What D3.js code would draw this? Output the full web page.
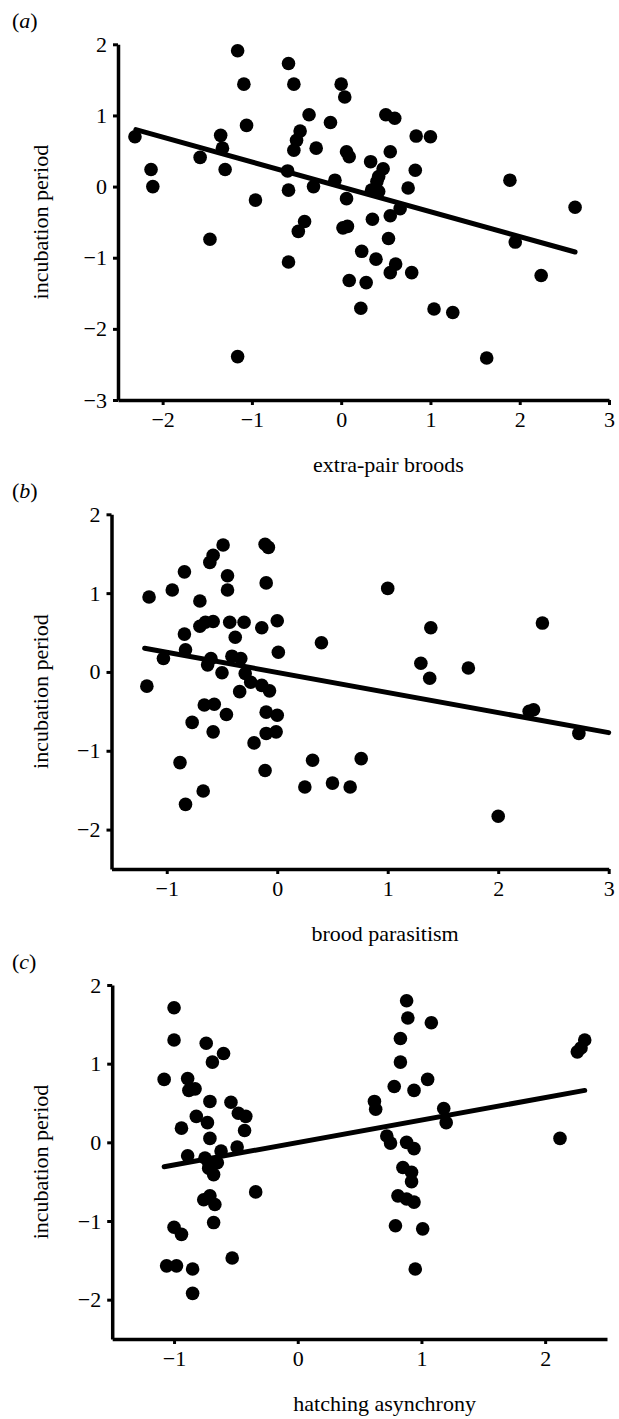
<!DOCTYPE html>
<html>
<head>
<meta charset="utf-8">
<script src="https://cdn.jsdelivr.net/npm/d3@7"></script>
<style>
body{margin:0;background:#fff}
svg{display:block}
text{font-family:"Liberation Serif","Times New Roman",serif;fill:#000}
</style>
</head>
<body>
<div id="chart"></div>
<script>
// (a) extra-pair broods vs incubation period
var pointsA = [[-2.31,0.70],[-2.13,0.24],[-2.11,0.00],[-1.58,0.41],[-1.47,-0.74],[-1.35,0.72],[-1.33,0.54],[-1.30,0.24],
  [-1.16,1.91],[-1.09,1.44],[-1.06,0.86],[-1.16,-2.39],[-0.96,-0.19],[-0.59,1.73],[-0.53,1.44],[-0.46,0.78],[-0.50,0.65],
  [-0.53,0.51],[-0.60,0.22],[-0.59,-0.05],[-0.41,-0.49],[-0.48,-0.63],[-0.59,-1.06],[-0.36,1.01],[-0.31,0.00],[0.00,1.44],
  [0.04,1.26],[-0.12,0.90],[-0.28,0.54],[0.06,0.49],[0.09,0.42],[0.50,1.01],[0.60,0.96],[0.84,0.71],[1.00,0.70],[0.55,0.49],
  [0.33,0.35],[0.47,0.25],[0.42,0.14],[0.40,0.07],[0.34,-0.05],[0.42,-0.07],[0.83,0.23],[0.75,-0.02],[-0.07,0.09],[0.06,-0.17],
  [0.02,-0.58],[0.07,-0.56],[0.35,-0.46],[0.55,-0.41],[0.66,-0.31],[0.53,-0.73],[0.23,-0.91],[0.39,-1.02],[0.61,-1.09],
  [0.55,-1.21],[0.79,-1.21],[0.09,-1.32],[0.28,-1.35],[0.22,-1.71],[1.04,-1.72],[1.25,-1.77],[1.63,-2.41],[1.89,0.09],
  [1.95,-0.78],[2.24,-1.25],[2.62,-0.29]]
var fitAx = [-2.3, 2.62]
var fitAy = [0.80, -0.92]
var xTicksA = [-2,-1,0,1,2,3]
var yTicksA = [-3,-2,-1,0,1,2]

// (b) brood parasitism
var pointsB = [[-1.16,0.95],[-0.95,1.04],[-0.84,1.27],[-0.70,0.90],[-0.61,1.39],[-0.58,1.48],[-0.49,1.61],[-0.45,1.22],
  [-0.45,1.04],[-0.11,1.62],[-0.08,1.58],[-0.10,1.13],[-0.70,0.58],[-0.65,0.63],[-0.58,0.64],[-0.43,0.63],[-0.30,0.63],
  [-0.38,0.44],[-0.14,0.56],[0.00,0.65],[-0.84,0.48],[-0.83,0.28],[0.01,0.25],[-1.03,0.17],[-1.18,-0.18],[-0.60,0.17],
  [-0.63,0.09],[-0.50,-0.01],[-0.41,0.20],[-0.33,0.17],[-0.29,-0.02],[-0.24,-0.13],[-0.34,-0.25],[-0.14,-0.17],[-0.07,-0.24],
  [-0.66,-0.42],[-0.57,-0.41],[-0.46,-0.54],[-0.77,-0.64],[-0.58,-0.76],[-0.10,-0.51],[0.00,-0.55],[-0.10,-0.78],[-0.01,-0.76],
  [-0.21,-0.90],[-0.88,-1.15],[-0.11,-1.25],[-0.67,-1.51],[-0.83,-1.68],[0.32,-1.12],[0.25,-1.46],[0.40,0.37],[1.00,1.06],
  [1.39,0.56],[1.30,0.11],[1.38,-0.08],[1.73,0.05],[0.50,-1.41],[0.66,-1.46],[0.76,-1.10],[2.00,-1.83],[2.40,0.62],
  [2.28,-0.50],[2.32,-0.48],[2.73,-0.78]]
var fitBx = [-1.2, 3.0]
var fitBy = [0.30, -0.77]
var xTicksB = [-1,0,1,2,3]
var yTicksB = [-2,-1,0,1,2]

// (c) hatching asynchrony
var pointsC = [[-1.00,1.71],[-1.00,1.30],[-0.74,1.26],[-0.60,1.13],[-0.69,1.02],[-1.08,0.80],[-0.89,0.81],[-0.88,0.66],
  [-0.83,0.68],[-0.71,0.52],[-0.54,0.51],[-0.48,0.37],[-0.42,0.33],[-0.43,0.15],[-0.82,0.33],[-0.73,0.25],[-0.94,0.18],
  [-0.71,0.05],[-0.49,-0.06],[-0.62,-0.11],[-0.89,-0.17],[-0.75,-0.20],[-0.72,-0.26],[-0.65,-0.26],[-0.72,-0.33],
  [-0.68,-0.41],[-0.34,-0.63],[-0.76,-0.73],[-0.71,-0.68],[-0.67,-0.79],[-0.68,-1.02],[-1.00,-1.08],[-0.94,-1.17],
  [-0.53,-1.47],[-1.06,-1.57],[-0.98,-1.57],[-0.85,-1.61],[-0.85,-1.92],
  [0.88,1.80],[0.89,1.58],[1.08,1.52],[0.83,1.32],[0.83,1.02],[1.05,0.80],[0.78,0.71],[0.94,0.66],[0.62,0.52],[0.63,0.42],
  [1.18,0.43],[1.20,0.25],[0.72,0.08],[0.75,-0.01],[0.88,0.00],[0.94,-0.08],[0.85,-0.32],[0.92,-0.38],[0.92,-0.50],
  [0.81,-0.68],[0.94,-0.76],[0.88,-0.72],[0.79,-1.06],[1.01,-1.10],[0.95,-1.61],
  [2.12,0.05],[2.26,1.15],[2.29,1.20],[2.32,1.30]]
var fitCx = [-1.08, 2.32]
var fitCy = [-0.31, 0.66]
var xTicksC = [-1,0,1,2]
var yTicksC = [-2,-1,0,1,2]

var svg = d3.select("#chart").append("svg").attr("width",619).attr("height",1419)

var panels = [
  {tag:"a", title:"extra-pair broods", pts:pointsA, fx:fitAx, fy:fitAy, xt:xTicksA, yt:yTicksA,
   xd:[-2.5,3], yd:[-3,2], left:118, right:609, top:44.3, bottom:400},
  {tag:"b", title:"brood parasitism", pts:pointsB, fx:fitBx, fy:fitBy, xt:xTicksB, yt:yTicksB,
   xd:[-1.5,3], yd:[-2.5,2], left:111.5, right:608.7, top:514.3, bottom:869},
  {tag:"c", title:"hatching asynchrony", pts:pointsC, fx:fitCx, fy:fitCy, xt:xTicksC, yt:yTicksC,
   xd:[-1.5,2.5], yd:[-2.5,2], left:112.2, right:607, top:985, bottom:1339}
]

var fmt = d3.format("d")

panels.forEach(function(p){
  var x = d3.scaleLinear().domain(p.xd).range([p.left,p.right])
  var y = d3.scaleLinear().domain(p.yd).range([p.bottom,p.top])
  var g = svg.append("g")

  var xa = g.append("g")
    .attr("transform","translate(0,"+p.bottom+")")
    .call(d3.axisBottom(x).tickValues(p.xt).tickFormat(fmt).tickSize(5).tickSizeOuter(0).tickPadding(6))
  var ya = g.append("g")
    .attr("transform","translate("+p.left+",0)")
    .call(d3.axisLeft(y).tickValues(p.yt).tickFormat(fmt).tickSize(5).tickSizeOuter(0).tickPadding(6))
  ;[xa,ya].forEach(function(a){
    a.select(".domain").attr("stroke","#000").attr("stroke-width",3.5)
    a.selectAll(".tick line").attr("stroke","#000").attr("stroke-width",3)
    a.selectAll(".tick text").attr("font-size",22).attr("font-family","Liberation Serif").attr("fill","#000")
  })

  // dots
  g.selectAll("circle.dot")
    .data(p.pts)
    .enter()
    .append("circle")
    .attr("class","dot")
    .attr("cx",function(d){ return x(d[0]) })
    .attr("cy",function(d){ return y(d[1]) })
    .attr("r",6.8)
    .attr("fill","#000")

  // regression line
  g.append("line")
    .attr("x1",x(p.fx[0])).attr("y1",y(p.fy[0]))
    .attr("x2",x(p.fx[1])).attr("y2",y(p.fy[1]))
    .attr("stroke","#000").attr("stroke-width",5).attr("stroke-linecap","round")

  // axis titles
  g.append("text")
    .attr("x",(p.left+p.right)/2+25)
    .attr("y",p.bottom+72)
    .attr("text-anchor","middle")
    .attr("font-size",22)
    .text(p.title)
  g.append("text")
    .attr("transform","translate(48,"+((p.top+p.bottom)/2)+") rotate(-90)")
    .attr("text-anchor","middle")
    .attr("font-size",22)
    .text("incubation period")

  // panel tag
  var t = g.append("text")
    .attr("x",12)
    .attr("y",p.top-16)
    .attr("font-size",22)
  t.append("tspan").text("(")
  t.append("tspan").attr("font-style","italic").text(p.tag)
  t.append("tspan").text(")")
})
</script>
</body>
</html>
